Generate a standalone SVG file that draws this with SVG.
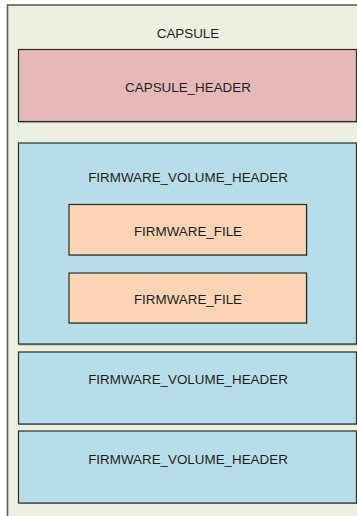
<svg xmlns="http://www.w3.org/2000/svg" width="357" height="516" viewBox="0 0 357 516">
  <defs>
    <style>
      .box { stroke: #2b2b2b; stroke-width: 1.2; }
      .shadow { fill: #7f7f7f; opacity: 0.6; }
      .outer { fill: #ebf1de; stroke: #5f5f5f; stroke-width: 1.6; }
      .capsule-header { fill: #e6b9b8; }
      .volume { fill: #b7dee8; }
      .file { fill: #fcd5b5; }
      text { font-family: "Liberation Sans", Arial, sans-serif; font-size: 13.4px; fill: #1e1e1e; text-anchor: middle; }
    </style>
  </defs>

  <g id="capsule">
    <rect class="outer" x="7.5" y="5" width="360" height="520"/>
    <text x="188" y="37.5">CAPSULE</text>
  </g>

  <g id="capsule_header">
    <rect class="shadow" x="19.5" y="50.5" width="338" height="72.5"/>
    <rect class="box capsule-header" x="18.5" y="49.5" width="338" height="72"/>
    <text x="188" y="92">CAPSULE_HEADER</text>
  </g>

  <g id="firmware_volume_1">
    <rect class="shadow" x="19.5" y="144" width="338" height="201.5"/>
    <rect class="box volume" x="18.5" y="143" width="338" height="201"/>
    <text x="188" y="182">FIRMWARE_VOLUME_HEADER</text>
  </g>

  <g id="firmware_file_1">
    <rect class="shadow" x="70" y="205.5" width="237.5" height="50.5"/>
    <rect class="box file" x="69" y="204.5" width="237.5" height="50.5"/>
    <text x="188" y="235.5">FIRMWARE_FILE</text>
  </g>

  <g id="firmware_file_2">
    <rect class="shadow" x="70" y="274" width="237.5" height="50"/>
    <rect class="box file" x="69" y="273" width="237.5" height="50"/>
    <text x="188" y="304">FIRMWARE_FILE</text>
  </g>

  <g id="firmware_volume_2">
    <rect class="shadow" x="19.5" y="353" width="338" height="72"/>
    <rect class="box volume" x="18.5" y="352" width="338" height="72"/>
    <text x="188" y="384">FIRMWARE_VOLUME_HEADER</text>
  </g>

  <g id="firmware_volume_3">
    <rect class="shadow" x="19.5" y="432" width="338" height="72"/>
    <rect class="box volume" x="18.5" y="431" width="338" height="72"/>
    <text x="188" y="464">FIRMWARE_VOLUME_HEADER</text>
  </g>

  <g id="connectors"/>
</svg>
